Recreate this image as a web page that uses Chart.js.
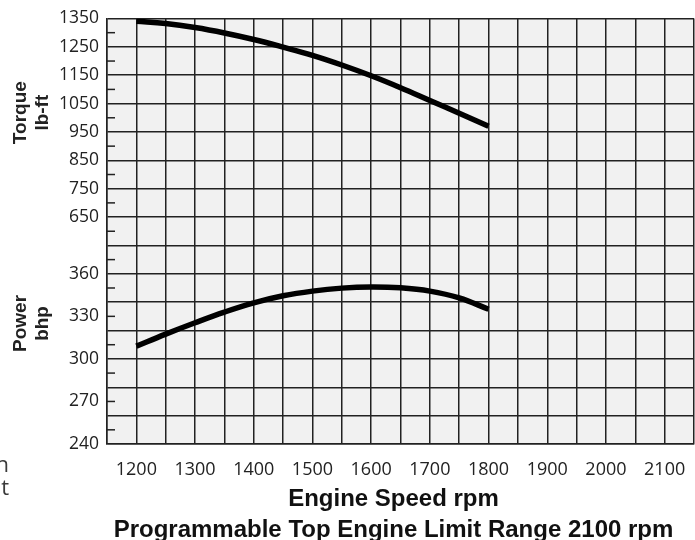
<!DOCTYPE html>
<html>
<head>
<meta charset="utf-8">
<script src="https://cdn.jsdelivr.net/npm/chart.js@4/dist/chart.umd.min.js"></script>
<style>
  html, body { margin: 0; padding: 0; background: #ffffff; }
  #wrap { position: relative; width: 695px; height: 540px; overflow: hidden; }
  #cut { position: absolute; left: -300px; top: 452px; width: 309px; text-align: right;
         font-family: "Open Sans", sans-serif; font-size: 22px; line-height: 23px; color: #3a3a3a; }
</style>
</head>
<body>
<div id="wrap">
  <canvas id="c" width="695" height="540"></canvas>
  <div id="cut">n<br>t</div>
</div>
<script>
// ---- data ----
const rpm = [1200, 1250, 1300, 1350, 1400, 1450, 1500, 1550, 1600, 1650, 1700, 1750, 1800];
const torqueLbFt = [1340, 1332, 1318, 1299, 1276, 1249, 1220, 1186, 1148, 1106, 1061, 1016, 970];
const powerBhp = [309, 317.5, 325.5, 333, 339.5, 344.5, 347.8, 349.9, 350.7, 350.1, 347.8, 343, 335];

const xTickLabels = [1200, 1300, 1400, 1500, 1600, 1700, 1800, 1900, 2000, 2100];
const powerTickLabels = [240, 270, 300, 330, 360];
const torqueTickLabels = [650, 750, 850, 950, 1050, 1150, 1250, 1350];

const xTitle = ['Engine Speed rpm', 'Programmable Top Engine Limit Range 2100 rpm'];
const torqueTitle = ['Torque', 'lb-ft'];
const powerTitle = ['Power', 'bhp'];

// axis ranges (power scale is the visible one; torque shares the same grid)
const X_MIN = 1150, X_MAX = 2150;
const P_MIN = 240, P_MAX = 540;
const T_MIN = -150, T_MAX = 1350;

const GRID = '#222222';
const TEXT = '#222222';

function powerToTorque(v) {
  return T_MIN + (v - P_MIN) / (P_MAX - P_MIN) * (T_MAX - T_MIN);
}

const bgPlugin = {
  id: 'bg',
  beforeDraw(chart) {
    const { ctx, chartArea: a } = chart;
    ctx.save();
    ctx.fillStyle = '#f1f1f1';
    ctx.fillRect(a.left, a.top, a.right - a.left, a.bottom - a.top);
    ctx.restore();
  }
};

const minorTickPlugin = {
  id: 'minorTicks',
  beforeDatasetsDraw(chart) {
    const { ctx, chartArea: a } = chart;
    const y = chart.scales.y;
    ctx.save();
    ctx.strokeStyle = GRID;
    ctx.lineWidth = 1.5;
    y.ticks.forEach(t => {
      if ((t.value - P_MIN) % 20 !== 0) {
        const py = y.getPixelForValue(t.value);
        ctx.beginPath();
        ctx.moveTo(a.left, py);
        ctx.lineTo(a.left + 8, py);
        ctx.stroke();
      }
    });
    ctx.restore();
  }
};

const titlesPlugin = {
  id: 'titles',
  afterDraw(chart) {
    const { ctx } = chart;
    const y2 = chart.scales.y2, y = chart.scales.y, x = chart.scales.x;
    ctx.save();
    ctx.fillStyle = TEXT;
    ctx.font = 'bold 19px "Liberation Sans", Arial, sans-serif';
    ctx.textAlign = 'center';
    ctx.textBaseline = 'middle';
    const draw = (lines, cy) => {
      ctx.save();
      ctx.translate(0, cy);
      ctx.rotate(-Math.PI / 2);
      ctx.fillText(lines[0], 0, 21);
      ctx.fillText(lines[1], 0, 43);
      ctx.restore();
    };
    draw(torqueTitle, y2.getPixelForValue(1018));
    draw(powerTitle, y.getPixelForValue(325));

    // x-axis title (two lines)
    ctx.fillStyle = '#111';
    ctx.font = 'bold 24px "Liberation Sans", Arial, sans-serif';
    ctx.textBaseline = 'alphabetic';
    const cx = (x.left + x.right) / 2 - 7;
    ctx.fillText(xTitle[0], cx, x.bottom - 34);
    ctx.fillText(xTitle[1], cx, x.bottom - 3);
    ctx.restore();
  }
};

new Chart(document.getElementById('c'), {
  type: 'line',
  data: {
    datasets: [
      {
        label: 'Torque',
        data: rpm.map((r, i) => ({ x: r, y: torqueLbFt[i] })),
        yAxisID: 'y2',
        borderColor: '#000',
        borderWidth: 5.5,
        pointRadius: 0,
        tension: 0.4,
        fill: false
      },
      {
        label: 'Power',
        data: rpm.map((r, i) => ({ x: r, y: powerBhp[i] })),
        yAxisID: 'y',
        borderColor: '#000',
        borderWidth: 5.5,
        pointRadius: 0,
        tension: 0.4,
        fill: false
      }
    ]
  },
  options: {
    responsive: false,
    animation: false,
    devicePixelRatio: 1,
    layout: { padding: { left: 0, top: 13, right: 1, bottom: 0 } },
    plugins: { legend: { display: false }, tooltip: { enabled: false } },
    scales: {
      x: {
        type: 'linear',
        min: X_MIN, max: X_MAX,
        afterFit(s) { s.height = 96; s.paddingLeft = 0; s.paddingRight = 0; },
        border: { color: GRID, width: 1.5 },
        grid: { color: GRID, lineWidth: 1.5, drawTicks: false },
        ticks: {
          stepSize: 50,
          autoSkip: false,
          maxRotation: 0,
          padding: 15,
          color: TEXT,
          font: { family: '"Open Sans", sans-serif', size: 18 },
          callback: v => xTickLabels.includes(v) ? String(v) : ''
        }
      },
      y: {
        type: 'linear',
        position: 'left',
        min: P_MIN, max: P_MAX,
        afterFit(s) { s.width = 107; },
        border: { color: GRID, width: 1.5 },
        grid: {
          drawTicks: false,
          lineWidth: 1.5,
          color: ctx => ((ctx.tick.value - P_MIN) % 20 === 0) ? GRID : 'rgba(0,0,0,0)'
        },
        ticks: {
          stepSize: 10,
          autoSkip: false,
          padding: 8,
          color: TEXT,
          font: { family: '"Open Sans", sans-serif', size: 17.5 },
          callback: v => {
            if (powerTickLabels.includes(v)) return String(v);
            const t = Math.round(powerToTorque(v));
            if (torqueTickLabels.includes(t)) return String(t);
            return '';
          }
        }
      },
      y2: {
        type: 'linear',
        display: false,
        min: T_MIN, max: T_MAX
      }
    }
  },
  plugins: [bgPlugin, minorTickPlugin, titlesPlugin]
});
</script>
</body>
</html>
